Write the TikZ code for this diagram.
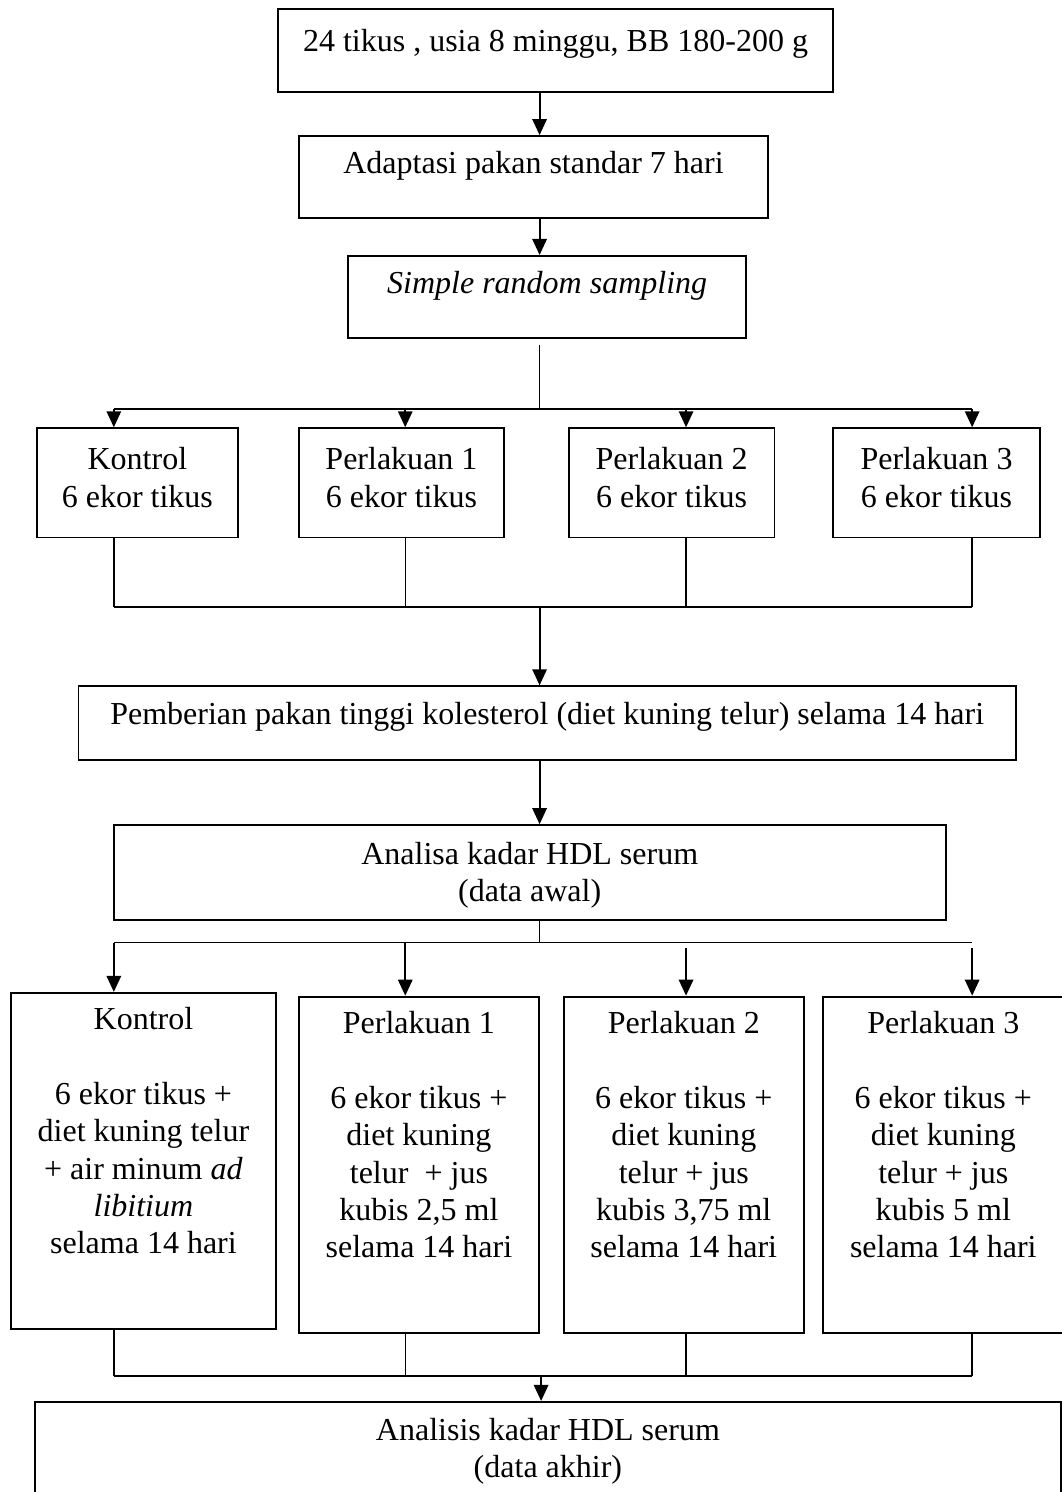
\documentclass[tikz,border=0pt]{standalone}
\usepackage{fontspec}
\setmainfont{Liberation Serif}
\usetikzlibrary{arrows.meta}

\begin{document}
\begin{tikzpicture}[font=\fontsize{12}{14}\selectfont,
    box/.style={draw, line width=0.7pt, inner sep=0pt, align=center, anchor=north},
    arr/.style={-{Triangle[length=6pt,width=5.4pt]}, line width=0.7pt},
    link/.style={line width=0.5pt}]
    \useasboundingbox (0,0) rectangle (13.99,-19.66);

    % Preparation steps
    \node[box, minimum width=7.31cm, text height=0.55cm, text depth=0.54cm] (tikus) at (7.32,-0.11) {24 tikus , usia 8 minggu, BB 180-200 g};
    \node[box, minimum width=6.18cm, text height=0.50cm, text depth=0.58cm] (adaptasi) at (7.03,-1.78) {Adaptasi pakan standar 7 hari};
    \node[box, minimum width=5.24cm, text height=0.49cm, text depth=0.59cm] (sampling) at (7.21,-3.36) {\textit{Simple random sampling}};

    % Groups - first row
    \node[box, minimum width=2.65cm, text height=1.04cm, text depth=0.40cm] (kontrol) at (1.81,-5.63) {Kontrol\\6 ekor tikus};
    \node[box, minimum width=2.70cm, text height=1.04cm, text depth=0.40cm] (perlakuanA) at (5.29,-5.63) {Perlakuan 1\\6 ekor tikus};
    \node[box, minimum width=2.71cm, text height=1.04cm, text depth=0.40cm] (perlakuanB) at (8.85,-5.63) {Perlakuan 2\\6 ekor tikus};
    \node[box, minimum width=2.73cm, text height=1.04cm, text depth=0.40cm] (perlakuanC) at (12.34,-5.63) {Perlakuan 3\\6 ekor tikus};

    % Induction and first measurement
    \node[box, minimum width=12.35cm, text height=0.50cm, text depth=0.47cm] (pakan) at (7.21,-9.03) {Pemberian pakan tinggi kolesterol (diet kuning telur) selama 14 hari};
    \node[box, minimum width=10.96cm, text height=1.01cm, text depth=0.24cm] (awal) at (6.98,-10.86) {Analisa kadar HDL serum\\(data awal)};

    % Groups - second row
    \node[box, minimum width=3.49cm, text height=3.44cm, text depth=0.99cm] (kontrolDiet) at (1.89,-13.07) {Kontrol\\[14pt]6 ekor tikus +\\diet kuning telur\\+ air minum \textit{ad}\\\textit{libitium}\\selama 14 hari};
    \node[box, minimum width=3.16cm, text height=3.44cm, text depth=0.99cm] (jusA) at (5.52,-13.12) {Perlakuan 1\\[14pt]6 ekor tikus +\\diet kuning\\telur\ \ + jus\\kubis 2,5 ml\\selama 14 hari};
    \node[box, minimum width=3.16cm, text height=3.44cm, text depth=0.99cm] (jusB) at (9.01,-13.12) {Perlakuan 2\\[14pt]6 ekor tikus +\\diet kuning\\telur + jus\\kubis 3,75 ml\\selama 14 hari};
    \node[box, minimum width=3.18cm, text height=3.44cm, text depth=0.99cm] (jusC) at (12.43,-13.12) {Perlakuan 3\\[14pt]6 ekor tikus +\\diet kuning\\telur + jus\\kubis 5 ml\\selama 14 hari};

    % Final measurement
    \node[box, minimum width=13.52cm, text height=1.00cm, text depth=0.46cm] (akhir) at (7.22,-18.46) {Analisis kadar HDL serum\\(data akhir)};

    % Branch points
    \coordinate (axis) at (7.11,0);
    \coordinate (split1) at (7.11,-5.39);
    \coordinate (c1) at (1.50,-5.39);
    \coordinate (c2) at (5.34,-5.39);
    \coordinate (c3) at (9.04,-5.39);
    \coordinate (c4) at (12.81,-5.39);
    \coordinate (join1) at (7.11,-8.00);
    \coordinate (split2) at (7.11,-12.42);
    \coordinate (d3) at (9.04,-12.49);
    \coordinate (d4) at (12.81,-12.49);
    \coordinate (join2) at (7.13,-18.13);

    % Preparation arrows
    \draw[arr] (tikus.south -| axis) -- (adaptasi.north -| axis);
    \draw[arr] (adaptasi.south -| axis) -- (sampling.north -| axis);
    \draw[link] (sampling.south -| axis) ++(0,-0.08) -- (split1);

    % Split into the four groups
    \draw[link] (c1) -- (c4);
    \draw[arr] (c1) -- (c1 |- kontrol.north);
    \draw[arr] (c2) -- (c2 |- perlakuanA.north);
    \draw[arr] (c3) -- (c3 |- perlakuanB.north);
    \draw[arr] (c4) -- (c4 |- perlakuanC.north);

    % Groups join again
    \draw[link] (kontrol.south -| c1) -- (c1 |- join1);
    \draw[link] (perlakuanA.south -| c2) -- (c2 |- join1);
    \draw[link] (perlakuanB.south -| c3) -- (c3 |- join1);
    \draw[link] (perlakuanC.south -| c4) -- (c4 |- join1);
    \draw[link] (c1 |- join1) -- (c4 |- join1);
    \draw[arr] (join1) -- (pakan.north -| join1);
    \draw[arr] (pakan.south -| axis) -- (awal.north -| axis);

    % Second split
    \draw[link] (awal.south -| axis) -- (split2);
    \draw[link] (c1 |- split2) -- (c4 |- split2);
    \draw[arr] (c1 |- split2) -- (c1 |- kontrolDiet.north);
    \draw[arr] (c2 |- split2) -- (c2 |- jusA.north);
    \draw[arr] (d3) -- (d3 |- jusB.north);
    \draw[arr] (d4) -- (d4 |- jusC.north);

    % Second join
    \draw[link] (kontrolDiet.south -| c1) -- (c1 |- join2);
    \draw[link] (jusA.south -| c2) -- (c2 |- join2);
    \draw[link] (jusB.south -| c3) -- (c3 |- join2);
    \draw[link] (jusC.south -| c4) -- (c4 |- join2);
    \draw[link] (c1 |- join2) -- (c4 |- join2);
    \draw[arr] (join2) -- (akhir.north -| join2);
\end{tikzpicture}
\end{document}
